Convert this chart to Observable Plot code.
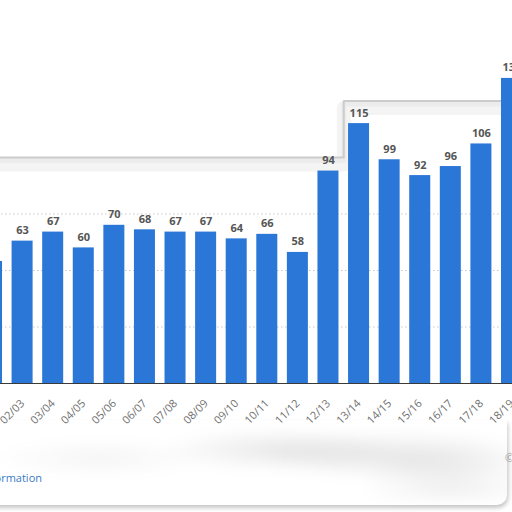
<!DOCTYPE html>
<html>
<head>
<meta charset="utf-8">
<script src="https://cdn.jsdelivr.net/npm/d3@7"></script>
<script src="https://cdn.jsdelivr.net/npm/@observablehq/plot@0.6"></script>
<style>
  html, body { margin: 0; padding: 0; background: #fff; }
  #frame { position: relative; width: 512px; height: 512px; overflow: hidden; background: #fff; font-family: "Open Sans", sans-serif; }
  #chart { position: absolute; top: 0; left: -18.56px; }
  #blur { position: absolute; left: -20px; top: 428px; width: 545px; height: 72px;
          background:
            radial-gradient(ellipse 120px 22px at 300px 22px, rgba(0,0,0,0.09), rgba(0,0,0,0)),
            radial-gradient(ellipse 140px 26px at 420px 28px, rgba(0,0,0,0.09), rgba(0,0,0,0)),
            radial-gradient(ellipse 110px 20px at 120px 30px, rgba(0,0,0,0.04), rgba(0,0,0,0)),
            radial-gradient(ellipse 90px 40px at 470px 55px, rgba(0,0,0,0.06), rgba(0,0,0,0));
          filter: blur(6px); }
  #card { position: absolute; left: -30px; top: 420px; width: 537px; height: 85px;
          border-bottom-right-radius: 10px; box-shadow: 1px 3px 4px rgba(0,0,0,0.22); background: transparent; }
  #info { position: absolute; right: 470px; top: 470px; font-size: 11px; color: #3a7cc4; white-space: nowrap; }
  #copy { position: absolute; left: 505px; top: 450px; font-size: 11px; color: #999; white-space: nowrap; }
</style>
</head>
<body>
<div id="frame">
  <div id="card"></div>
  <div id="blur"></div>
  <div id="chart"></div>
  <div id="info">Additional Information</div>
  <div id="copy">© Statista</div>
</div>
<script>
const categories = ["01/02","02/03","03/04","04/05","05/06","06/07","07/08","08/09","09/10","10/11","11/12","12/13","13/14","14/15","15/16","16/17","17/18","18/19"];
const values = [54, 63, 67, 60, 70, 68, 67, 67, 64, 66, 58, 94, 115, 99, 92, 96, 106, 135];
const coverLevel = [100,100,100,100,100,100,100,100,100,100,100,100,125,125,125,125,125,125];
const gridValues = [25, 50, 75];

const table = categories.map((c, i) => ({season: c, value: values[i], cover: coverLevel[i]}));

const chart = Plot.plot({
  width: 541,
  height: 440,
  marginLeft: 0,
  marginRight: 0,
  marginTop: 0,
  marginBottom: 57,
  style: {maxWidth: "none", fontFamily: "Open Sans, sans-serif", background: "transparent"},
  x: {domain: categories, paddingInner: 0.313, paddingOuter: 0, round: false, label: null},
  y: {domain: [0, 169.47], axis: null},
  marks: [
    Plot.ruleY(gridValues, {stroke: "#c8c8c8", strokeDasharray: "1.5,2.5"}),
    Plot.lineY(table, {x: "season", y: "cover", curve: "step", stroke: "#f4f4f4", strokeWidth: 14, dy: 7}),
    Plot.lineY(table, {x: "season", y: "cover", curve: "step", stroke: "#ececec", strokeWidth: 5, dy: 3}),
    Plot.lineY(table, {x: "season", y: "cover", curve: "step", stroke: "#cccccc", strokeWidth: 2}),
    Plot.barY(table, {x: "season", y: "value", fill: "#2b77d8"}),
    Plot.ruleY([0], {stroke: "#3a3a3a", strokeWidth: 1}),
    Plot.text(table, {x: "season", y: "value", text: d => String(d.value), dy: -7, lineAnchor: "bottom", fontSize: 11, fontWeight: 700, fill: "#555"}),
    Plot.axisX({tickRotate: -45, tickSize: 0, tickPadding: 18, fill: "#707070", fontSize: 11, label: null})
  ]
});
document.getElementById("chart").appendChild(chart);
</script>
</body>
</html>
